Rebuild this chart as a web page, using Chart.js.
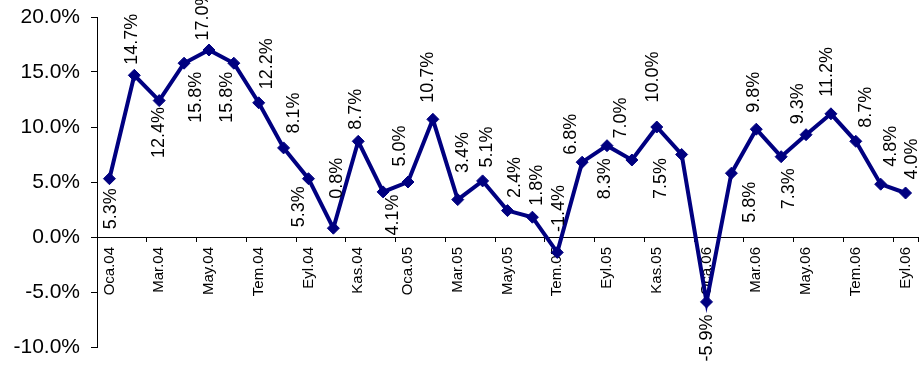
<!DOCTYPE html>
<html>
<head>
<meta charset="utf-8">
<script src="https://cdn.jsdelivr.net/npm/chart.js@4/dist/chart.umd.min.js"></script>
<style>
  html, body { margin: 0; padding: 0; background: #fff; overflow: hidden; }
  #growthChart { display: block; }
</style>
</head>
<body>
<canvas id="growthChart" width="925" height="365" style="width:925px;height:365px"></canvas>
<script>
const categories = [
  "Oca.04", "Şub.04", "Mar.04", "Nis.04", "May.04", "Haz.04", "Tem.04", "Ağu.04", "Eyl.04", "Eki.04", "Kas.04", "Ara.04",
  "Oca.05", "Şub.05", "Mar.05", "Nis.05", "May.05", "Haz.05", "Tem.05", "Ağu.05", "Eyl.05", "Eki.05", "Kas.05", "Ara.05",
  "Oca.06", "Şub.06", "Mar.06", "Nis.06", "May.06", "Haz.06", "Tem.06", "Ağu.06", "Eyl.06",
];
const growth = [
  5.3, 14.7, 12.4, 15.8, 17.0, 15.8, 12.2, 8.1, 5.3, 0.8, 8.7, 4.1,
  5.0, 10.7, 3.4, 5.1, 2.4, 1.8, -1.4, 6.8, 8.3, 7.0, 10.0, 7.5,
  -5.9, 5.8, 9.8, 7.3, 9.3, 11.2, 8.7, 4.8, 4.0,
];
const yMin = -10;
const yMax = 20;
const yStep = 5;

// label centre offsets from each point (px), as placed in the original
const labelOffsets = [
  [2, 30], [-2, -36], [0, 32], [12, 34], [-6, -35], [-7, 34], [8, -39], [10, -35], [-9, 28],
  [4, -50], [-2, -32], [10, 23], [-8, -36], [-5, -42], [5, -47], [4, -34], [8, -33], [5, -32],
  [2, -44], [-11, -28], [-2, 33], [-11, -42], [-4, -50], [-21, 24], [1, 36], [19, 29],
  [-2, -37], [8, 32], [-8, -31], [-4, -42], [10, -34], [10, -38], [6, -34],
];

const NAVY = "#000080";
const FONT = "'Liberation Sans', Arial, sans-serif";

const pointLabels = {
  id: "pointLabels",
  afterDatasetsDraw(chart) {
    const ctx = chart.ctx;
    const meta = chart.getDatasetMeta(0);
    ctx.save();
    ctx.font = "18px " + FONT;
    ctx.fillStyle = "#000";
    ctx.textAlign = "center";
    ctx.textBaseline = "middle";
    meta.data.forEach((pt, i) => {
      const [dx, dy] = labelOffsets[i] || [0, -30];
      ctx.save();
      ctx.translate(pt.x + dx, pt.y + dy);
      ctx.rotate(-Math.PI / 2);
      ctx.fillText(growth[i].toFixed(1) + "%", 0, 0);
      ctx.restore();
    });
    ctx.restore();
  },
};

new Chart(document.getElementById("growthChart"), {
  type: "line",
  data: {
    labels: categories,
    datasets: [
      {
        data: growth,
        borderColor: NAVY,
        borderWidth: 4,
        tension: 0,
        pointStyle: "rectRot",
        pointRadius: 6,
        pointBorderWidth: 1,
        pointBackgroundColor: NAVY,
        pointBorderColor: NAVY,
        clip: false,
      },
    ],
  },
  options: {
    responsive: false,
    animation: false,
    layout: { padding: { top: 17, bottom: 18, left: 0, right: 0 } },
    plugins: {
      legend: { display: false },
      tooltip: { enabled: false },
    },
    scales: {
      x: {
        type: "category",
        position: { y: 0 },
        offset: true,
        afterFit: (scale) => {
          scale.height = 0;
          scale.paddingLeft = 0;
          scale.paddingRight = 0;
        },
        grid: {
          display: true,
          offset: true,
          drawOnChartArea: false,
          tickLength: 4,
          tickColor: (c) => (c.index % 2 ? "rgba(0,0,0,0)" : "#000"),
        },
        border: { display: true, color: "#000", width: 1 },
        ticks: {
          autoSkip: false,
          minRotation: 90,
          maxRotation: 90,
          padding: 6,
          color: "#000",
          font: { family: FONT, size: 15 },
          callback: (v, i) => (i % 2 ? "" : categories[i]),
        },
      },
      y: {
        min: yMin,
        max: yMax,
        afterFit: (scale) => {
          scale.width = 97;
          scale.paddingTop = 0;
          scale.paddingBottom = 0;
        },
        grid: {
          display: true,
          drawOnChartArea: false,
          tickLength: 6,
          tickColor: "#000",
        },
        border: { display: true, color: "#000", width: 1 },
        ticks: {
          stepSize: yStep,
          padding: 11,
          color: "#000",
          font: { family: FONT, size: 21 },
          callback: (v) => v.toFixed(1) + "%",
        },
      },
    },
  },
  plugins: [pointLabels],
});
</script>
</body>
</html>
